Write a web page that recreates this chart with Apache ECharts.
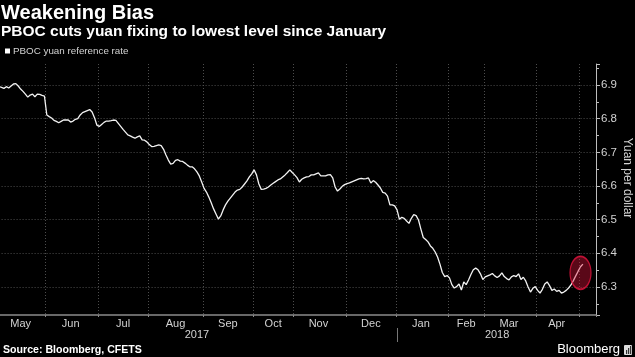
<!DOCTYPE html>
<html><head><meta charset="utf-8">
<script src="https://cdn.jsdelivr.net/npm/echarts@6/dist/echarts.min.js"></script>
<style>html,body{margin:0;padding:0;background:#000;}#c{width:635px;height:357px;}</style>
</head><body><div id="c"></div>
<script>
// months shown on the axis (trading-day axis) and trading days per month
const months = ['May','Jun','Jul','Aug','Sep','Oct','Nov','Dec','Jan','Feb','Mar','Apr','May'];
const monthYears = [2017,2017,2017,2017,2017,2017,2017,2017,2018,2018,2018,2018,2018];
const monthDays = [21,22,21,23,21,17,22,21,22,15,22,18,2];
const monthLabelShown = [1,1,1,1,1,1,1,1,1,1,1,1,0];
const years = ['2017','2018'];
const padDays = 5;
const seriesName = 'PBOC yuan reference rate';
// daily PBOC yuan reference rate (yuan per dollar)
const values = [
 6.894,6.895,6.893,6.890,6.895,6.891,6.897,6.903,6.904,6.897,6.888,6.881,6.873,6.864,6.870,6.873,6.865,6.873,6.872,6.869,6.867,
 6.811,6.806,6.802,6.795,6.792,6.788,6.792,6.796,6.796,6.796,6.790,6.793,6.798,6.800,6.811,6.818,6.821,6.824,6.827,6.820,6.803,6.781,
 6.777,6.783,6.789,6.793,6.793,6.794,6.796,6.795,6.786,6.777,6.768,6.760,6.752,6.749,6.745,6.742,6.746,6.749,6.737,6.736,6.731,
 6.723,6.717,6.718,6.720,6.722,6.720,6.709,6.692,6.677,6.665,6.667,6.676,6.678,6.674,6.673,6.668,6.662,6.657,6.657,6.651,6.642,6.630,6.612,
 6.593,6.582,6.567,6.550,6.532,6.517,6.502,6.511,6.529,6.544,6.555,6.564,6.573,6.582,6.588,6.590,6.597,6.606,6.615,6.627,6.636,
 6.648,6.633,6.606,6.590,6.591,6.593,6.597,6.603,6.608,6.613,6.618,6.621,6.627,6.633,6.640,6.648,6.640,
 6.633,6.625,6.612,6.620,6.624,6.627,6.628,6.633,6.633,6.636,6.639,6.630,6.630,6.630,6.633,6.634,6.624,6.597,6.585,6.591,6.599,6.604,
 6.607,6.609,6.612,6.615,6.618,6.621,6.623,6.621,6.622,6.624,6.609,6.616,6.611,6.603,6.594,6.581,6.579,6.570,6.544,6.544,6.541,
 6.529,6.501,6.507,6.504,6.496,6.489,6.504,6.515,6.512,6.499,6.472,6.447,6.441,6.434,6.422,6.415,6.404,6.389,6.368,6.343,6.331,6.334,
 6.327,6.307,6.297,6.301,6.309,6.291,6.315,6.307,6.321,6.337,6.351,6.356,6.351,6.339,6.322,
 6.330,6.333,6.336,6.340,6.333,6.328,6.333,6.342,6.331,6.325,6.321,6.330,6.334,6.331,6.339,6.322,6.329,6.318,6.300,6.285,6.296,6.301,
 6.290,6.282,6.293,6.309,6.315,6.304,6.290,6.294,6.287,6.290,6.282,6.285,6.290,6.297,6.306,6.319,6.333,6.347,
 6.360,6.368
];
// highlighted area (circle annotation): [day index, yuan value]
const highlight = [245, 6.342];
const yMin = 6.2168, yMax = 6.9624;

// build categories and month boundaries
const cats = [];
const boundaries = [];
const labelAt = {};
const yearLabelAt = {};
let idx = 0;
months.forEach((m, k) => {
  if (k > 0) boundaries.push(idx);
  if (monthLabelShown[k]) labelAt[Math.floor(idx + monthDays[k] / 2 - 0.5)] = m;
  for (let d = 0; d < monthDays[k]; d++) cats.push(m + ' ' + monthYears[k] + ' #' + (d + 1));
  idx += monthDays[k];
});
for (let p = 0; p < padDays; p++) cats.push('pad' + p);
const yearStart = cats.findIndex(c => c.indexOf('2018') >= 0);
yearLabelAt[Math.round(yearStart / 2 - 0.5)] = years[0];
yearLabelAt[Math.round((yearStart + cats.length) / 2 - 0.5)] = years[1];

const gridLine = { color: '#4d4d4d', width: 1, type: [1, 2] };
const axisText = '#d2d2d2';
const font = 'Liberation Sans, Arial, sans-serif';

const chart = echarts.init(document.getElementById('c'), null, { renderer: 'canvas' });
chart.setOption({
  backgroundColor: '#000',
  animation: false,
  textStyle: { fontFamily: font },
  title: [
    { text: 'Weakening Bias', left: 1, top: 3, padding: 0,
      textStyle: { color: '#fff', fontSize: 20, fontWeight: 'bold', fontFamily: font } },
    { text: 'PBOC cuts yuan fixing to lowest level since January', left: 1, top: 24, padding: 0,
      textStyle: { color: '#fff', fontSize: 15.5, fontWeight: 'bold', fontFamily: font } },
    { text: 'Source: Bloomberg, CFETS', left: 3, top: 345, padding: 0,
      textStyle: { color: '#fff', fontSize: 10.6, fontWeight: 'bold', fontFamily: font } },
    { text: 'Bloomberg', right: 15, top: 343, padding: 0,
      textStyle: { color: '#fff', fontSize: 13, fontWeight: 'normal', fontFamily: font } }
  ],
  legend: {
    data: [seriesName], left: 5, top: 46, padding: 0,
    icon: 'rect', itemWidth: 5, itemHeight: 5,
    textStyle: { color: '#d2d2d2', fontSize: 9.8, fontFamily: font, padding: [0, 0, 0, -2] },
    itemStyle: { color: '#fff' }
  },
  grid: { left: -4.4, right: 39, top: 64, bottom: 42, containLabel: false, outerBoundsMode: 'none' },
  xAxis: [
    {
      type: 'category', data: cats, boundaryGap: true,
      axisLine: { show: true, lineStyle: { color: '#8a8a8a', width: 1.5 } },
      axisTick: { show: true, interval: (i) => boundaries.indexOf(i) >= 0, length: 2, lineStyle: { color: '#8a8a8a' } },
      axisLabel: { interval: (i) => labelAt[i] !== undefined, formatter: (v, i) => labelAt[i] || '',
        color: axisText, fontSize: 11, margin: 3 },
      splitLine: { show: true, interval: (i) => boundaries.indexOf(i) >= 0, lineStyle: gridLine }
    },
    {
      type: 'category', data: cats, boundaryGap: true, position: 'bottom', offset: 13,
      axisLine: { show: false },
      axisTick: { show: true, alignWithLabel: true, interval: (i) => i === yearStart, length: 14, lineStyle: { color: '#777' } },
      axisLabel: { interval: (i) => yearLabelAt[i] !== undefined, formatter: (v, i) => yearLabelAt[i] || '',
        color: axisText, fontSize: 11, margin: 1 },
      splitLine: { show: false }
    }
  ],
  yAxis: {
    type: 'value', position: 'right', min: yMin, max: yMax, splitNumber: 7, scale: true,
    axisLine: { show: true, lineStyle: { color: '#bdbdbd', width: 1 } },
    axisTick: { show: true, length: 4, lineStyle: { color: '#bdbdbd' } },
    minorTick: { show: true, splitNumber: 2, length: 3, lineStyle: { color: '#bdbdbd' } },
    axisLabel: { color: axisText, fontSize: 11.5, margin: 5, showMinLabel: false, showMaxLabel: false,
      formatter: (v) => v.toFixed(1) },
    splitLine: { show: true, showMinLine: false, showMaxLine: false, lineStyle: gridLine }
  },
  graphic: [
    { type: 'text', x: 627, y: 178, rotation: -Math.PI / 2,
      style: { text: 'Yuan per dollar', fill: axisText, font: '12px ' + font, align: 'center', verticalAlign: 'middle' } },
    { type: 'rect', shape: { x: 624, y: 345, width: 8, height: 10, r: 1 }, style: { fill: '#ddd' } },
    { type: 'rect', shape: { x: 626, y: 350, width: 1.2, height: 4 }, style: { fill: '#333' } },
    { type: 'rect', shape: { x: 628, y: 348, width: 1.2, height: 6 }, style: { fill: '#333' } },
    { type: 'rect', shape: { x: 630, y: 346, width: 1.2, height: 8 }, style: { fill: '#333' } }
  ],
  series: [
    { name: seriesName, type: 'line', xAxisIndex: 0, data: values, showSymbol: false, symbol: 'none',
      lineStyle: { color: '#f2f2f2', width: 1.3 }, itemStyle: { color: '#fff' }, z: 2 },
    { name: 'highlight', type: 'scatter', xAxisIndex: 0, data: [highlight], symbol: 'circle', symbolSize: [21, 33],
      itemStyle: { color: 'rgba(224,20,60,0.5)', borderColor: '#e3143f', borderWidth: 1.5 }, silent: true, z: 3 }
  ]
});
</script></body></html>
